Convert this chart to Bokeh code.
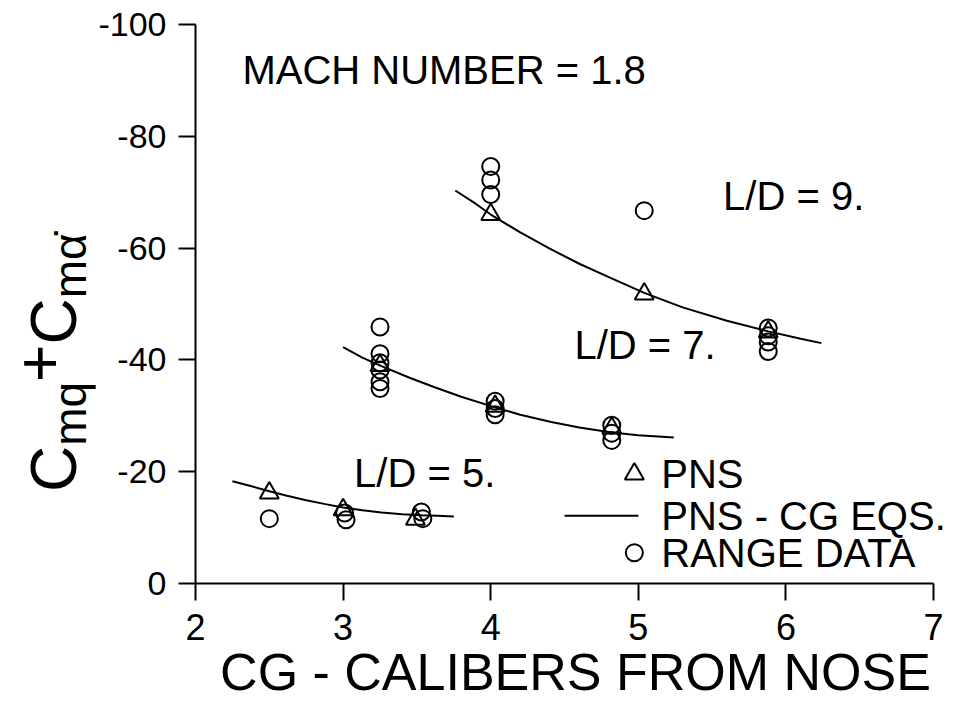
from bokeh.plotting import figure
from bokeh.layouts import row
from bokeh.models import Range1d, FixedTicker, Div
from bokeh.embed import file_html
from bokeh.resources import INLINE
from bokeh.core.properties import value

# ---------------- data ----------------
x_ticks = [2, 3, 4, 5, 6, 7]
y_ticks = [0, -20, -40, -60, -80, -100]
y_tick_labels = ["0", "-20", "-40", "-60", "-80", "-100"]

# L/D = 9
ld9_pns_x = [4.00, 5.04, 5.88]
ld9_pns_y = [-66.0, -51.8, -45.0]
ld9_range_x = [4.00, 4.00, 4.00, 5.04, 5.88, 5.88, 5.88, 5.88]
ld9_range_y = [-74.6, -72.2, -69.6, -66.7, -45.7, -44.3, -43.2, -41.5]
ld9_curve_x = [3.76, 3.90, 4.00, 4.20, 4.40, 4.60, 4.80, 5.04, 5.30, 5.60, 5.88, 6.10, 6.24]
ld9_curve_y = [-70.3, -67.9, -66.0, -62.8, -59.9, -57.2, -54.8, -52.0, -49.4, -47.0, -45.1, -43.8, -43.0]

# L/D = 7
ld7_pns_x = [3.25, 4.03, 4.82]
ld7_pns_y = [-39.0, -31.7, -27.8]
ld7_range_x = [3.25, 3.25, 3.25, 3.25, 3.25, 3.25, 4.03, 4.03, 4.03, 4.82, 4.82, 4.82]
ld7_range_y = [-45.9, -41.1, -39.5, -38.2, -36.1, -34.9, -32.6, -31.3, -30.2, -28.3, -26.9, -25.6]
ld7_curve_x = [3.00, 3.13, 3.26, 3.45, 3.62, 3.80, 4.03, 4.20, 4.41, 4.60, 4.82, 5.00, 5.24]
ld7_curve_y = [-42.3, -40.4, -38.9, -36.8, -35.1, -33.4, -31.5, -30.2, -28.9, -27.9, -27.0, -26.5, -26.1]

# L/D = 5
ld5_pns_x = [2.50, 3.00, 3.49]
ld5_pns_y = [-16.2, -13.2, -11.5]
ld5_range_x = [2.50, 3.01, 3.02, 3.53, 3.54]
ld5_range_y = [-11.6, -12.6, -11.4, -12.8, -11.6]
ld5_curve_x = [2.25, 2.38, 2.50, 2.62, 2.75, 2.88, 3.00, 3.13, 3.26, 3.40, 3.53, 3.64, 3.75]
ld5_curve_y = [-18.3, -17.4, -16.5, -15.7, -14.9, -14.2, -13.6, -13.1, -12.7, -12.4, -12.2, -12.1, -12.0]

notes = ["MACH NUMBER = 1.8", "L/D = 9.", "L/D = 7.", "L/D = 5."]
legend_labels = ["PNS", "PNS - CG EQS.", "RANGE DATA"]

# ---------------- layout constants ----------------
FONT = "Liberation Sans"
W, H = 964, 703
PANEL = 95                     # left panel holding the rotated y label
X0 = 193                       # page x of the frame's left edge
PX_PER_X = 148.0
L, T, R, B = X0 - PANEL, 24, 9, 117
FRAME_W = W - PANEL - L - R

# ---------------- main figure ----------------
p = figure(width=W - PANEL, height=H, output_backend="svg", toolbar_location=None,
           x_range=Range1d(x_ticks[0], x_ticks[0] + FRAME_W / PX_PER_X),
           y_range=Range1d(0, -100),
           min_border_left=L, min_border_right=R, min_border_top=T,
           min_border_bottom=B)
p.outline_line_color = None
p.grid.visible = False
p.background_fill_color = "white"
p.border_fill_color = "white"

for ax in (p.xaxis[0], p.yaxis[0]):
    ax.axis_line_width = 2
    ax.axis_line_color = "black"
    ax.major_tick_line_width = 2
    ax.major_tick_line_color = "black"
    ax.major_tick_out = 17
    ax.major_tick_in = 0
    ax.minor_tick_out = 0
    ax.minor_tick_in = 0
    ax.major_label_text_font = FONT
    ax.major_label_text_color = "black"

p.xaxis.bounds = (x_ticks[0], x_ticks[-1])
p.xaxis.ticker = FixedTicker(ticks=x_ticks)
p.yaxis.ticker = FixedTicker(ticks=y_ticks)
p.yaxis.major_label_overrides = {t: s for t, s in zip(y_ticks, y_tick_labels)}
p.xaxis.major_label_text_font_size = "36px"
p.yaxis.major_label_text_font_size = "34px"
p.xaxis.major_label_standoff = 13
p.yaxis.major_label_standoff = 12

p.xaxis.axis_label = "CG - CALIBERS FROM NOSE"
p.xaxis.axis_label_text_font = FONT
p.xaxis.axis_label_text_font_size = "52px"
p.xaxis.axis_label_text_font_style = "normal"
p.xaxis.axis_label_text_color = "black"
p.xaxis.axis_label_standoff = 0

MS = 17
LW = 2
for cx, cy in ((ld9_curve_x, ld9_curve_y), (ld7_curve_x, ld7_curve_y), (ld5_curve_x, ld5_curve_y)):
    p.line(cx, cy, line_color="black", line_width=LW)
for rx, ry in ((ld9_range_x, ld9_range_y), (ld7_range_x, ld7_range_y), (ld5_range_x, ld5_range_y)):
    p.scatter(rx, ry, marker="circle", size=MS, fill_color=None, line_color="black", line_width=LW)
for tx, ty in ((ld9_pns_x, ld9_pns_y), (ld7_pns_x, ld7_pns_y), (ld5_pns_x, ld5_pns_y)):
    p.scatter(tx, ty, marker="triangle", size=MS + 2, fill_color=None, line_color="black", line_width=LW)


# page pixel -> data helpers for annotation placement
def dx(px):
    return x_ticks[0] + (px - X0) / PX_PER_X


def dy(py):
    return -(586 - py) / 5.62


# annotations in the plot
note_px = [(240, 70), (722, 196), (573, 346), (352, 475)]
p.text(x=[dx(a) for a, b in note_px], y=[dy(b) for a, b in note_px], text=notes,
       text_font=value(FONT), text_font_size="40px", text_color="black",
       text_baseline="middle", text_align="left")

# legend (drawn by hand)
leg_rows = [476, 518, 555]
p.scatter([dx(633)], [dy(leg_rows[0])], marker="triangle", size=MS + 2,
          fill_color=None, line_color="black", line_width=LW)
p.line([dx(563), dx(637)], [dy(leg_rows[1])] * 2, line_color="black", line_width=LW)
p.scatter([dx(633)], [dy(leg_rows[2])], marker="circle", size=MS,
          fill_color=None, line_color="black", line_width=LW)
p.text(x=[dx(660)] * 3, y=[dy(r) for r in leg_rows], text=legend_labels,
       text_font=value(FONT), text_font_size="40px", text_color="black",
       text_baseline="middle", text_align="left")

# ---------------- left panel: y label C_mq + C_m(alpha dot) ----------------
ylabel_html = (
    '<div style="position:relative;width:%dpx;height:%dpx;overflow:visible;">'
    '<div style="position:absolute;left:22px;top:492px;transform:rotate(-90deg);'
    'transform-origin:0 0;white-space:nowrap;font-family:\'Liberation Sans\';'
    'font-size:64px;line-height:64px;color:#000;">'
    'C<span style="font-size:46px;position:relative;top:10px;">mq</span>'
    '<span style="position:relative;top:-14px;">+</span>'
    'C<span style="font-size:46px;position:relative;top:10px;">m&#945;&#775;</span>'
    '</div></div>'
) % (PANEL, H)
q = Div(text=ylabel_html, width=PANEL, height=H, margin=0)

layout = row(q, p, spacing=0)
open("out.html", "w").write(file_html(layout, INLINE))
